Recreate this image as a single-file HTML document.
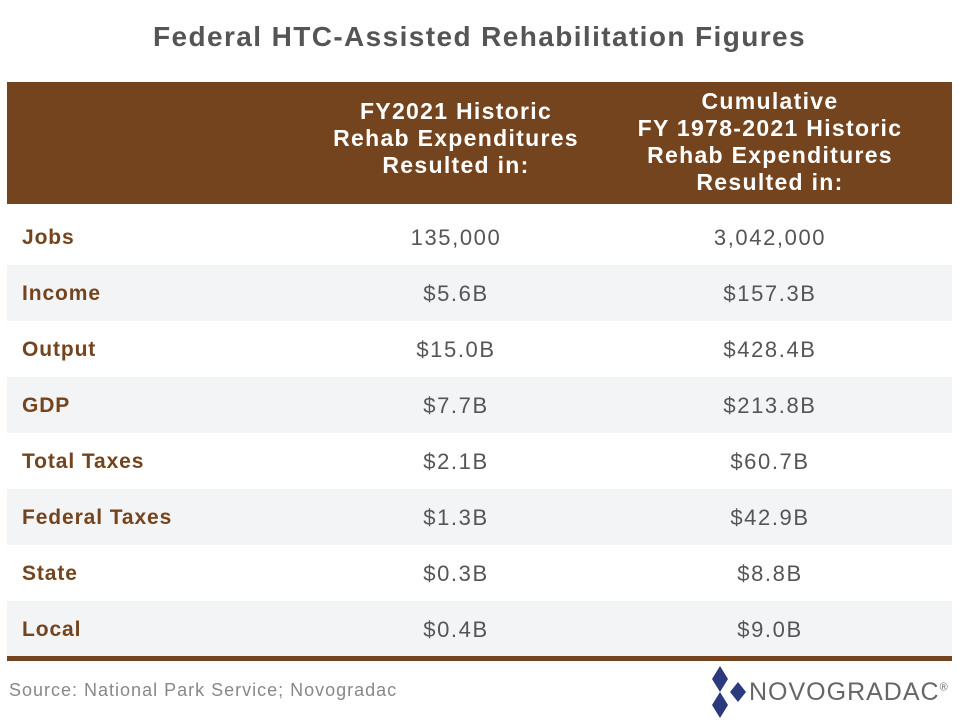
<!DOCTYPE html>
<html><head><style>
body{margin:0;width:959px;height:728px;background:#fff;font-family:"Liberation Sans",sans-serif;position:relative;overflow:hidden}
.t{position:absolute;top:21px;left:0;width:959px;text-align:center;font-size:28px;letter-spacing:1.4px;font-weight:bold;color:#555}
.hd{position:absolute;left:7px;top:82px;width:945px;height:122px;background:#74441e}
.h{position:absolute;color:#fff;font-weight:bold;font-size:23px;letter-spacing:1.3px;line-height:27px;text-align:center;width:320px}
.r{position:absolute;left:7px;width:945px;height:56px}
.g{background:#f3f4f6}
.l{position:absolute;left:15px;top:17px;font-size:21px;letter-spacing:0.9px;font-weight:bold;color:#74441e}
.v{position:absolute;top:16px;font-size:22px;letter-spacing:1.6px;color:#555;width:320px;text-align:center}
.a{left:289px}.b{left:603px}
.ln{position:absolute;left:7px;top:656px;width:945px;height:5px;background:#74441e}
.s{position:absolute;left:9px;top:680px;font-size:18px;letter-spacing:1px;color:#888}
</style></head><body>
<div class="t">Federal HTC-Assisted Rehabilitation Figures</div>
<div class="hd">
<div class="h" style="left:289px;top:16px">FY2021 Historic<br>Rehab Expenditures<br>Resulted in:</div>
<div class="h" style="left:603px;top:6px">Cumulative<br>FY 1978-2021 Historic<br>Rehab Expenditures<br>Resulted in:</div>
</div>
<div class="r" style="top:209px"><div class="l">Jobs</div><div class="v a">135,000</div><div class="v b">3,042,000</div></div>
<div class="r g" style="top:265px"><div class="l">Income</div><div class="v a">$5.6B</div><div class="v b">$157.3B</div></div>
<div class="r" style="top:321px"><div class="l">Output</div><div class="v a">$15.0B</div><div class="v b">$428.4B</div></div>
<div class="r g" style="top:377px"><div class="l">GDP</div><div class="v a">$7.7B</div><div class="v b">$213.8B</div></div>
<div class="r" style="top:433px"><div class="l">Total Taxes</div><div class="v a">$2.1B</div><div class="v b">$60.7B</div></div>
<div class="r g" style="top:489px"><div class="l">Federal Taxes</div><div class="v a">$1.3B</div><div class="v b">$42.9B</div></div>
<div class="r" style="top:545px"><div class="l">State</div><div class="v a">$0.3B</div><div class="v b">$8.8B</div></div>
<div class="r g" style="top:601px"><div class="l">Local</div><div class="v a">$0.4B</div><div class="v b">$9.0B</div></div>
<div class="ln"></div>
<div class="s">Source: National Park Service; Novogradac</div>
<svg style="position:absolute;left:708px;top:666px" width="44" height="54">
<polygon points="12,0 20,13 12,26 4,13" fill="#2b3a7c"/>
<polygon points="12,26 20,39 12,52 4,39" fill="#2b3a7c"/>
<polygon points="30,16 38,26 30,36 22,26" fill="#2b3a7c"/>
</svg>
<div style="position:absolute;left:749px;top:678px;font-size:25px;letter-spacing:1px;color:#666">NOVOGRADAC<sup style="font-size:11px">®</sup></div>
</body></html>
